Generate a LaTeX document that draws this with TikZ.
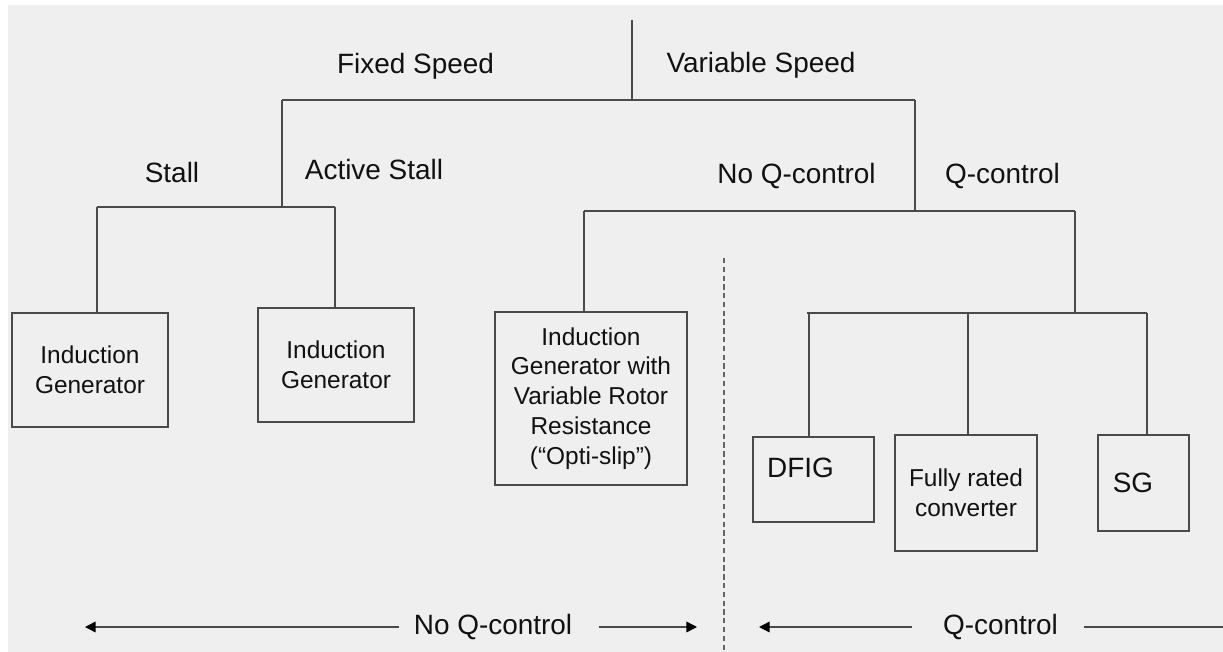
\documentclass[tikz,border=0pt]{standalone}
\usepackage{fontspec}
\setmainfont{Liberation Sans}
\usetikzlibrary{arrows.meta,positioning,calc}
\definecolor{treeLine}{HTML}{4A4A4A}
\definecolor{treeBack}{HTML}{EFEFEF}
\definecolor{treeText}{HTML}{111111}

\begin{document}
\begin{tikzpicture}[x=0.02cm,y=-0.02cm,
      lbl/.style={font=\fontsize{15.9}{19}\selectfont,text=treeText,inner sep=0pt},
      box/.style={draw=treeLine,line width=0.8pt,font=\fontsize{13.9}{17}\selectfont,text=treeText,align=center,inner sep=0pt},
      link/.style={treeLine,line width=0.8pt},
      arr/.style={treeLine,line width=0.85pt,-{Triangle[length=6pt,width=6pt,color=black]}}]
    \useasboundingbox (0,0) rectangle (1223,652);
    \fill[treeBack] (8,5) rectangle (1223,652);

    % branch labels
    \node[lbl] (fix) at (415.5,66) {Fixed Speed};
    \node[lbl] (var) at (761,65.5) {Variable Speed};
    \node[lbl] (stall) at (172,173) {Stall};
    \node[lbl] (astall) at (374,170) {Active Stall};
    \node[lbl] (noq) at (796.5,176.5) {No Q-control};
    \node[lbl] (withq) at (1002.5,176.5) {Q-control};

    % generator boxes
    \node[box,minimum width=3.12cm,minimum height=2.28cm] (ig1) at (90,370) {Induction\\ Generator};
    \node[box,minimum width=3.12cm,minimum height=2.28cm] (ig2) at (336,365) {Induction\\ Generator};
    \node[box,minimum width=3.84cm,minimum height=3.46cm] (igv) at (591,398.5) {Induction\\ Generator with\\ Variable Rotor\\ Resistance\\ (“Opti-slip”)};
    \node[box,minimum width=2.42cm,minimum height=1.70cm,
          label={[lbl,xshift=-0.26cm,yshift=0.23cm]center:DFIG}] (dfig) at (813.5,479.5) {};
    \node[box,minimum width=2.84cm,minimum height=2.32cm] (full) at (966,493) {Fully rated\\ converter};
    \node[box,minimum width=1.82cm,minimum height=1.92cm,
          label={[lbl,xshift=-0.21cm]center:SG}] (sg) at (1143.5,483) {};

    % tree
    \coordinate (root) at (632,20);
    \coordinate (sp) at (632,100);
    \coordinate (fs) at (282,100);
    \coordinate (vs) at (915,100);
    \coordinate (fs2) at (282,207);
    \coordinate (st) at (97,207);
    \coordinate (as) at (335,207);
    \coordinate (vs2) at (915,211);
    \coordinate (nq) at (584,211);
    \coordinate (qc) at (1075,211);
    \coordinate (qc2) at (1075,313);
    \coordinate (q0) at (807,313);
    \coordinate (q1) at (809,313);
    \coordinate (q2) at (968,313);
    \coordinate (q3) at (1147,313);
    \draw[link] (root) -- (sp);
    \draw[link] (fs) -- (vs);
    \draw[link] (fs) -- (fs2);
    \draw[link] (st) -- (as);
    \draw[link] (vs) -- (vs2);
    \draw[link] (nq) -- (qc);
    \draw[link] (qc) -- (qc2);
    \draw[link] (q0) -- (q3);
    \foreach \a/\b in {st/ig1,as/ig2,nq/igv,q1/dfig,q2/full,q3/sg}
      \draw[link] (\a) -- (\a |- \b.north);

    % divider and bottom arrows
    \coordinate (dtop) at (724,258);
    \coordinate (dbot) at (724,652);
    \draw[treeLine!85,line width=0.6pt,dash pattern=on 3pt off 2pt] (dtop) -- (dbot);
    \node[lbl] (bnoq) at (493,627) {No Q-control};
    \node[lbl] (bwithq) at (1000.5,627) {Q-control};
    \coordinate (a1) at (85,627);
    \coordinate (a2) at (697,627);
    \coordinate (a3) at (759,627);
    \coordinate (a4) at (1223,627);
    \draw[arr,shorten <=0.28cm] (bnoq.west) -- (a1);
    \draw[arr,shorten <=0.52cm] (bnoq.east) -- (a2);
    \draw[arr,shorten <=0.62cm] (bwithq.west) -- (a3);
    \draw[link,line width=0.85pt,shorten <=0.52cm] (bwithq.east) -- (a4);
  \end{tikzpicture}
\end{document}
